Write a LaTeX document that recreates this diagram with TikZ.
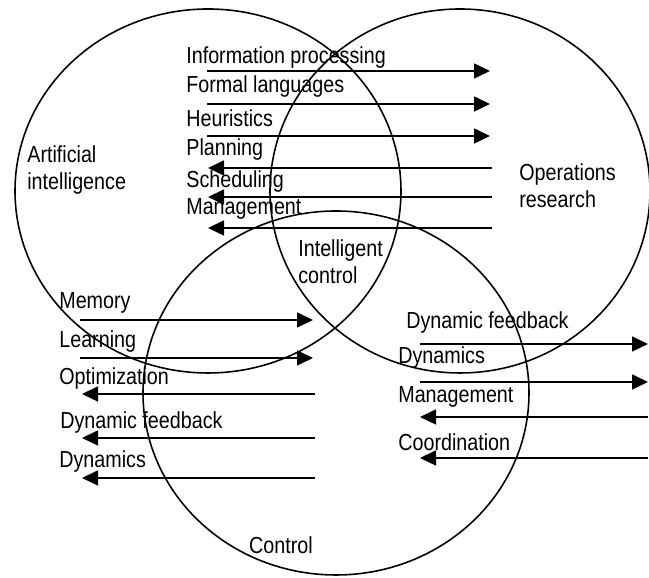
\documentclass[tikz,border=0pt]{standalone}
\usepackage{fontspec}
\setmainfont{Liberation Sans}[FakeStretch=0.85]
\usetikzlibrary{arrows.meta,shapes.geometric}

\begin{document}
\begin{tikzpicture}[
    field/.style  = {ellipse, draw, line width=0.9pt, minimum width=7.72cm, minimum height=7.28cm, inner sep=0pt},
    flow/.style   = {-{Triangle[length=0.32cm, width=0.3cm]}, line width=0.9pt},
    tag/.style    = {anchor=west, inner sep=0pt, font=\fontsize{13.2}{15.2}\selectfont}
  ]
    \useasboundingbox (0,0) rectangle (12.98,11.56);
    \node[field] (ai)  at (4.16, 7.74) {};
    \node[field, minimum width=7.6cm] (or)  at (9.20, 7.74) {};
    \node[field] (ctl) at (6.72, 3.70) {};

    \node[tag, align=left] (ailabel) at ( 0.54, 8.16) {Artificial\\intelligence};
    \node[tag, align=left] (orlabel) at (10.38, 7.84) {Operations\\research};
    \node[tag, align=left] (iclabel) at ( 5.96, 6.32) {Intelligent\\control};
    \node[tag, anchor=center] (ctllabel) at (5.62, 0.66) {Control};

    % AI <-> OR
    \node[tag] (info)  at (3.72,10.40) {Information processing};
    \node[tag] (forml) at (3.72, 9.82) {Formal languages};
    \node[tag] (heur)  at (3.72, 9.20) {Heuristics};
    \node[tag] (plan)  at (3.72, 8.56) {Planning};
    \node[tag] (sched) at (3.72, 7.92) {Scheduling};
    \node[tag] (mgmt)  at (3.72, 7.38) {Management};
    \foreach \y [count=\i] in {10.14, 9.48, 8.84} {
      \coordinate (aout\i) at (4.14,\y);
      \coordinate (oin\i)  at (9.80,\y);
      \draw[flow] (aout\i) -- (oin\i);
    }
    \foreach \y [count=\i] in {8.20, 7.62, 7.00} {
      \coordinate (oout\i) at (9.84,\y);
      \coordinate (ain\i)  at (4.16,\y);
      \draw[flow] (oout\i) -- (ain\i);
    }

    % AI <-> Control
    \node[tag] (mem)   at (1.18, 5.50) {Memory};
    \node[tag] (learn) at (1.18, 4.72) {Learning};
    \node[tag] (optim) at (1.18, 3.98) {Optimization};
    \node[tag] (dfbl)  at (1.20, 3.10) {Dynamic feedback};
    \node[tag] (dynl)  at (1.18, 2.32) {Dynamics};
    \foreach \y [count=\i] in {5.16, 4.40} {
      \coordinate (lout\i) at (1.60,\y);
      \coordinate (cin\i)  at (6.26,\y);
      \draw[flow] (lout\i) -- (cin\i);
    }
    \foreach \y [count=\i] in {3.68, 2.80, 2.00} {
      \coordinate (cout\i) at (6.30,\y);
      \coordinate (lin\i)  at (1.64,\y);
      \draw[flow] (cout\i) -- (lin\i);
    }

    % Control <-> OR
    \node[tag] (dfbr)  at (8.12, 5.10) {Dynamic feedback};
    \node[tag] (dynr)  at (7.96, 4.40) {Dynamics};
    \node[tag] (mgmtr) at (7.96, 3.62) {Management};
    \node[tag] (coord) at (7.96, 2.72) {Coordination};
    \foreach \y [count=\i] in {4.68, 3.92} {
      \coordinate (rout\i) at ( 8.40,\y);
      \coordinate (rin\i)  at (12.96,\y);
      \draw[flow] (rout\i) -- (rin\i);
    }
    \foreach \y [count=\i] in {3.22, 2.40} {
      \coordinate (redge\i) at (12.96,\y);
      \coordinate (rend\i)  at ( 8.40,\y);
      \draw[flow] (redge\i) -- (rend\i);
    }
  \end{tikzpicture}
\end{document}
